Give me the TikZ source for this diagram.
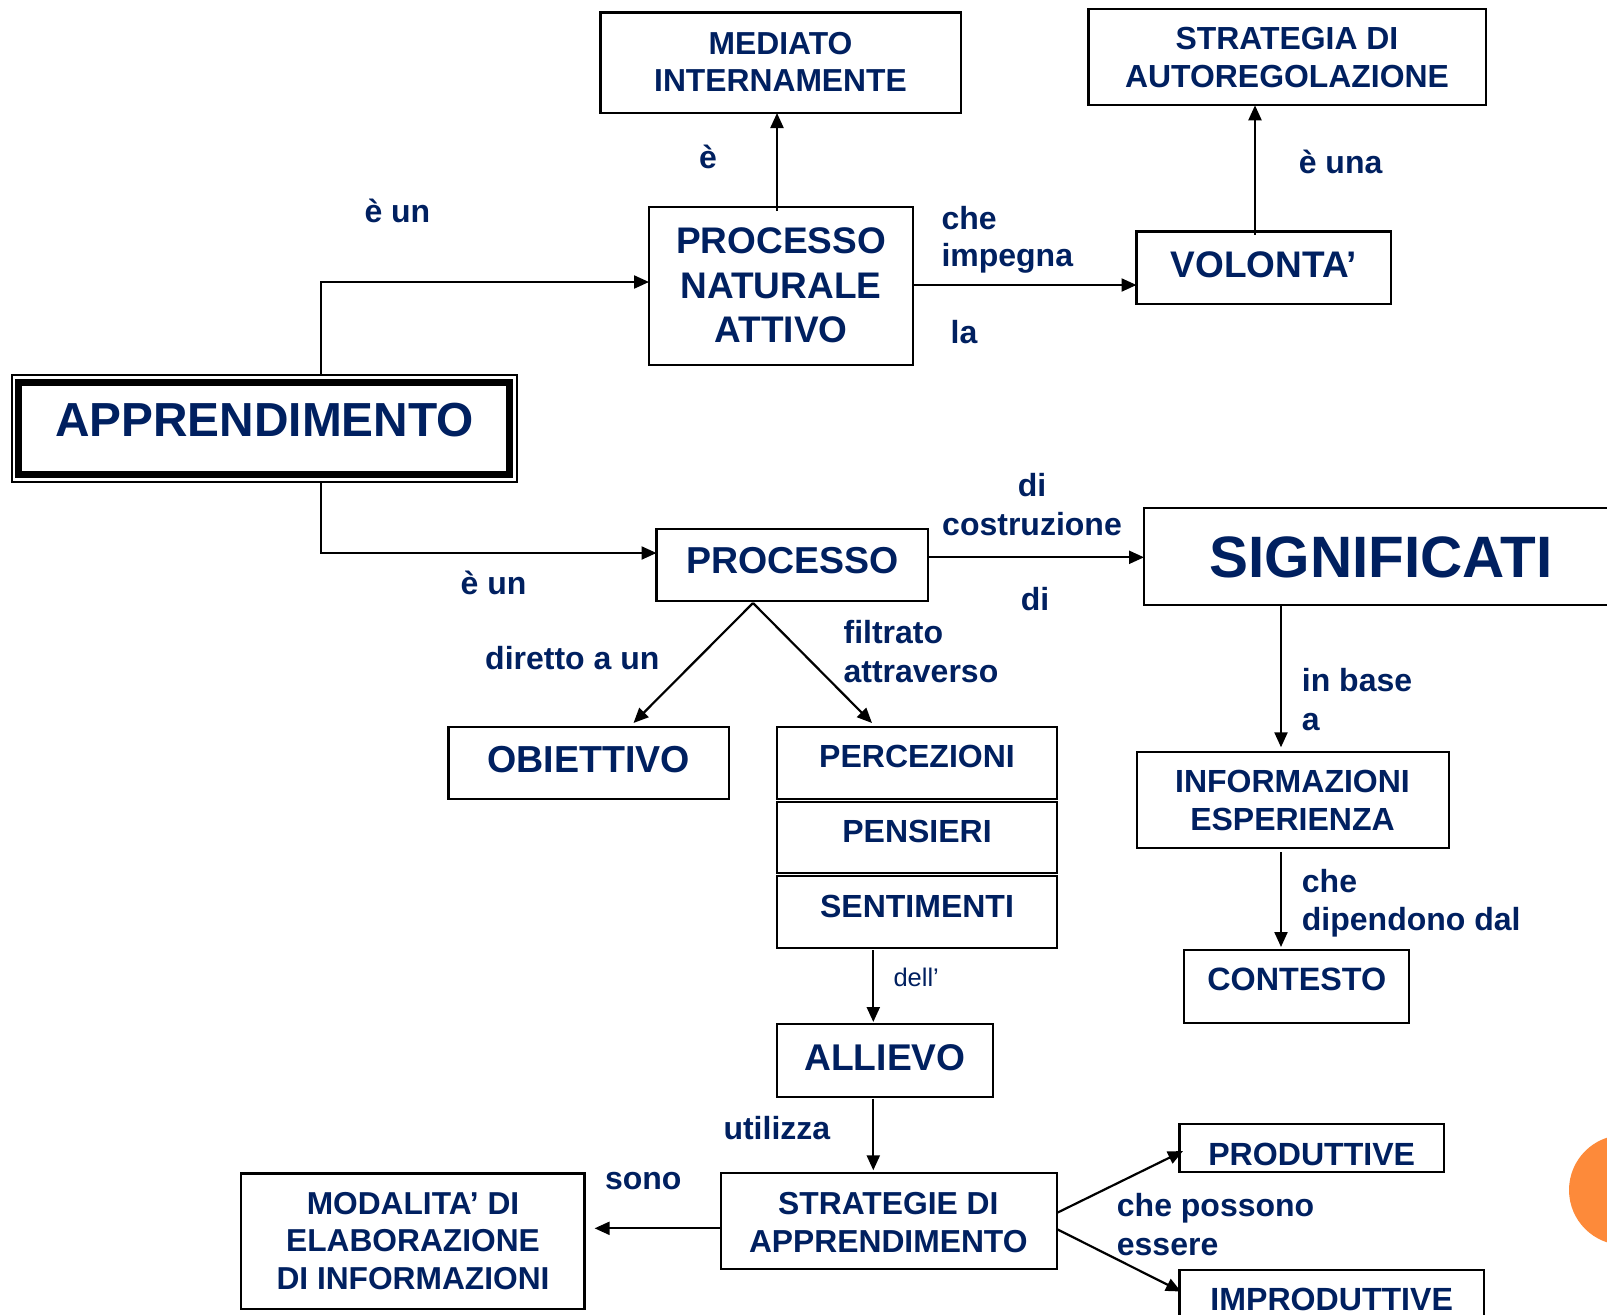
\documentclass[tikz,border=0pt]{standalone}
\usepackage{fontspec}
\setmainfont{Liberation Sans}
\usetikzlibrary{arrows.meta}
\definecolor{navy}{RGB}{0,32,96}
\definecolor{accent}{RGB}{253,138,58}

\begin{document}
\begin{tikzpicture}[x=1pt,y=-1pt,
  box/.style={draw=black, line width=2.3pt, inner sep=0pt, outer sep=0pt},
  boxtext/.style n args={2}{text=navy, inner sep=0pt, align=center,
    font=\fontsize{#1}{#2}\selectfont\bfseries},
  linktext/.style={text=navy, inner sep=0pt, anchor=base west,
    font=\fontsize{32}{38}\selectfont\bfseries},
  arr/.style={line width=2.2pt, -{Triangle[length=15pt,width=13pt]}}]

\useasboundingbox (0,0) rectangle (1607,1315);
\clip (0,0) rectangle (1607,1315);
\fill[white] (0,0) rectangle (1607,1315);

% decorative disc at the right edge
\fill[accent] (1624,1190) circle[radius=55];

% ---------- boxes ----------
\node[box, line width=2pt, minimum width=505.2pt, minimum height=106.3pt] (app) at (264.5,428.35) {};
\node[box, line width=7pt, minimum width=490.9pt, minimum height=92pt] (app-in) at (264.35,428.3) {};
\node[boxtext={47.8}{56}] (app-t) at (264.5,420) {APPRENDIMENTO};

\node[box, minimum width=360.4pt, minimum height=100.5pt] (med) at (780.8,62.75) {};
\node[boxtext={31.8}{37}] (med-t) at (780.5,61.5) {MEDIATO\\INTERNAMENTE};

\node[box, minimum width=397.5pt, minimum height=96pt] (strat) at (1287.25,57.3) {};
\node[boxtext={31.9}{38}] (strat-t) at (1287,58) {STRATEGIA DI\\AUTOREGOLAZIONE};

\node[box, minimum width=264pt, minimum height=158pt] (pna) at (781,286) {};
\node[boxtext={37}{44.5}] (pna-t) at (781,285.5) {PROCESSO\\NATURALE\\ATTIVO};

\node[box, minimum width=254.5pt, minimum height=72.2pt] (vol) at (1263.75,267.6) {};
\node[boxtext={37}{44}] (vol-t) at (1264,265) {VOLONTA’};

\node[box, minimum width=271.5pt, minimum height=72pt] (proc) at (792.25,565) {};
\node[boxtext={37.5}{44}] (proc-t) at (792.7,560.7) {PROCESSO};

\node[box, minimum width=496pt, minimum height=97pt] (sig) at (1392,556.5) {};
\node[boxtext={58.4}{68}] (sig-t) at (1381,557) {SIGNIFICATI};

\node[box, minimum width=280.5pt, minimum height=72.3pt] (obi) at (588.75,762.85) {};
\node[boxtext={37.6}{44}] (obi-t) at (588.8,760) {OBIETTIVO};

\node[box, minimum width=279.7pt, minimum height=72.3pt] (perc) at (916.85,762.85) {};
\node[boxtext={32}{38}] (perc-t) at (917,756.7) {PERCEZIONI};
\node[box, minimum width=279.7pt, minimum height=71.6pt] (pens) at (916.85,837.5) {};
\node[boxtext={32}{38}] (pens-t) at (917,831.7) {PENSIERI};
\node[box, minimum width=279.7pt, minimum height=72.3pt] (sent) at (916.85,912.15) {};
\node[boxtext={32}{38}] (sent-t) at (917,906.7) {SENTIMENTI};

\node[box, minimum width=312.6pt, minimum height=96pt] (info) at (1293,800.3) {};
\node[boxtext={32}{38.3}] (info-t) at (1292.5,800.8) {INFORMAZIONI\\ESPERIENZA};

\node[box, minimum width=225pt, minimum height=72.7pt] (cont) at (1296.8,986.35) {};
\node[boxtext={32.3}{38}] (cont-t) at (1296.8,979.3) {CONTESTO};

\node[box, minimum width=216.6pt, minimum height=72.7pt] (all) at (885,1060.35) {};
\node[boxtext={37.2}{44}] (all-t) at (885,1058) {ALLIEVO};

\node[box, minimum width=336.6pt, minimum height=96pt] (strg) at (889,1221.3) {};
\node[boxtext={31.8}{38.4}] (strg-t) at (888.3,1222.5) {STRATEGIE DI\\APPRENDIMENTO};

\node[box, minimum width=343.9pt, minimum height=135.6pt] (mod) at (412.65,1241.2) {};
\node[boxtext={31.7}{37.9}] (mod-t) at (413,1241) {MODALITA’ DI\\ELABORAZIONE\\DI INFORMAZIONI};

\node[box, minimum width=264.8pt, minimum height=48pt] (prod) at (1311.9,1148.3) {};
\node[boxtext={32.1}{38}] (prod-t) at (1311.7,1154) {PRODUTTIVE};

\node[box, minimum width=304.8pt, minimum height=60pt] (impr) at (1331.9,1300) {};
\node[boxtext={32.1}{38}] (impr-t) at (1331.7,1299.6) {IMPRODUTTIVE};

% ---------- connector helpers ----------
\coordinate (j1) at (321,282);
\coordinate (j2) at (321,553);
\coordinate (xmed) at (777,0);
\coordinate (yvol) at (0,285);
\coordinate (xstr) at (1255,0);
\coordinate (ysig) at (0,557.3);
\coordinate (apex) at (753,603);
\coordinate (tobi) at (633.5,723);
\coordinate (tperc) at (872,723);
\coordinate (xinf) at (1281,0);
\coordinate (xall) at (873.3,0);
\coordinate (ymod) at (0,1228.3);
\coordinate (yup) at (0,1212.7);
\coordinate (ydn) at (0,1229.3);
\coordinate (tprod) at (1183,1151);
\coordinate (timpr) at (1181,1291.5);

% ---------- connectors ----------
\draw[arr] (app.north -| j1) |- (pna.west |- j1);
\draw[arr] (app.south -| j2) |- (proc.west |- j2);
\draw[arr, shorten <=-4pt] (pna.north -| xmed) -- (med.south -| xmed);
\draw[arr] (pna.east |- yvol) -- (vol.west |- yvol);
\draw[arr, shorten <=-3pt] (vol.north -| xstr) -- (strat.south -| xstr);
\draw[arr] (proc.east |- ysig) -- (sig.west |- ysig);
\draw[arr] (apex) -- (tobi);
\draw[arr] (apex) -- (tperc);
\draw[arr, shorten >=5pt] (sig.south -| xinf) -- (info.north -| xinf);
\draw[arr, shorten <=4pt, shorten >=3pt] (info.south -| xinf) -- (cont.north -| xinf);
\draw[arr, shorten <=2pt, shorten >=2pt] (sent.south -| xall) -- (all.north -| xall);
\draw[arr, shorten <=2pt, shorten >=3pt] (all.south -| xall) -- (strg.north -| xall);
\draw[arr, shorten >=10pt] (strg.west |- ymod) -- (mod.east |- ymod);
\draw[arr] (strg.east |- yup) -- (tprod);
\draw[arr] (strg.east |- ydn) -- (timpr);

% ---------- link phrases ----------
\node[linktext] (l1) at (364.3,222.7) {è un};
\node[linktext] (l2) at (460.5,594) {è un};
\node[linktext] (l3) at (699,168) {è};
\node[linktext] (l4) at (1298.6,173.3) {è una};
\node[linktext] (l5a) at (941.3,229.3) {che};
\node[linktext] (l5b) at (941.3,266.7) {impegna};
\node[linktext] (l6) at (950.5,343.3) {la};
\node[linktext, anchor=base] (l7a) at (1032,496) {di};
\node[linktext, anchor=base] (l7b) at (1032,535) {costruzione};
\node[linktext, anchor=base] (l8) at (1035,610) {di};
\node[linktext] (l9) at (485,669) {diretto a un};
\node[linktext] (l10a) at (843.4,643.3) {filtrato};
\node[linktext] (l10b) at (843.4,682.3) {attraverso};
\node[linktext] (l11a) at (1301.7,691.7) {in base};
\node[linktext] (l11b) at (1301.7,730.7) {a};
\node[linktext] (l12a) at (1301.7,892.3) {che};
\node[linktext] (l12b) at (1301.7,930) {dipendono dal};
\node[linktext, font=\fontsize{25.5}{30}\selectfont] (l13) at (893.3,986) {dell’};
\node[linktext] (l14) at (723.3,1139) {utilizza};
\node[linktext] (l15) at (604.8,1189.3) {sono};
\node[linktext] (l16a) at (1116.7,1216.7) {che possono};
\node[linktext] (l16b) at (1116.7,1255) {essere};
\end{tikzpicture}
\end{document}
